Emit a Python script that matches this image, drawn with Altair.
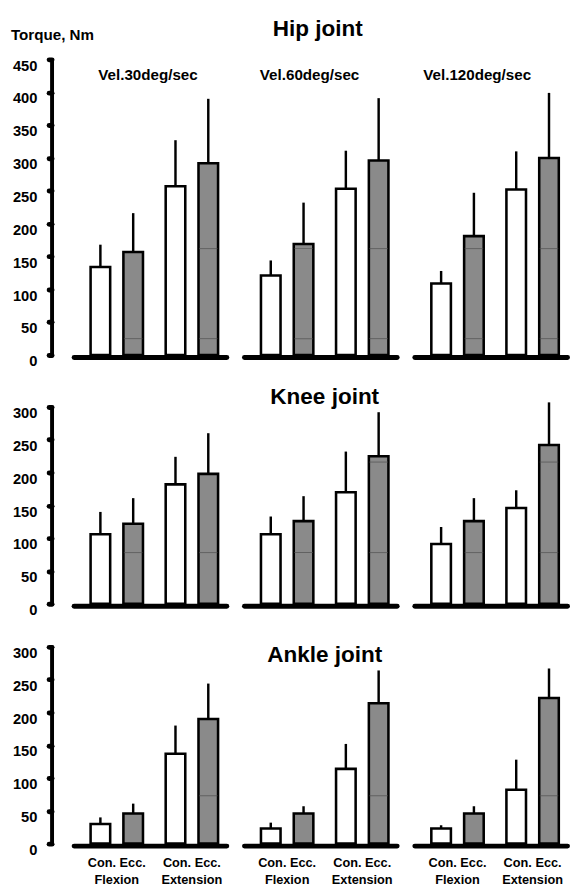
import altair as alt
import pandas as pd

FONT = "Liberation Sans"

velocities = ["Vel.30deg/sec", "Vel.60deg/sec", "Vel.120deg/sec"]
motions = ["Flexion", "Extension"]
types = ["Con.", "Ecc."]
bar_order = [("Flexion", "Con."), ("Flexion", "Ecc."), ("Extension", "Con."), ("Extension", "Ecc.")]

# mean torque (bar height) per velocity: Con-Flex, Ecc-Flex, Con-Ext, Ecc-Ext
hip_mean = [[134, 157, 257, 292], [121, 169, 253, 296], [109, 181, 252, 300]]
hip_upper = [[168, 216, 327, 390], [144, 232, 311, 391], [128, 247, 310, 399]]
knee_mean = [[106, 122, 182, 198], [106, 126, 170, 225], [91, 126, 146, 242]]
knee_upper = [[140, 161, 224, 260], [133, 164, 232, 292], [117, 161, 173, 307]]
ankle_mean = [[30, 46, 137, 190], [23, 46, 114, 214], [23, 46, 82, 222]]
ankle_upper = [[40, 61, 180, 244], [32, 57, 152, 264], [28, 57, 128, 267]]

# faint lines visible inside the shaded (eccentric) bars
pattern_lines = {"Hip joint": [25, 162], "Knee joint": [78, 216], "Ankle joint": [73]}

hip_ticks = [0, 50, 100, 150, 200, 250, 300, 350, 400, 450]
knee_ticks = [0, 50, 100, 150, 200, 250, 300]
ankle_ticks = [0, 50, 100, 150, 200, 250, 300]

W = 156
GREY = "#8a8a8a"


def make_row(joint, means, uppers, ticks, height, first=False, last=False,
             title_dx=0, title_y=0):
    pats = pattern_lines[joint]
    rows = []
    for vi, v in enumerate(velocities):
        for bi, (m, t) in enumerate(bar_order):
            ecc = t == "Ecc."
            rows.append(dict(
                Joint=joint, Velocity=v, Motion=m, Type=t,
                Mean=means[vi][bi], Upper=uppers[vi][bi],
                PatLo=pats[0] if ecc else None,
                PatHi=(pats[1] if len(pats) > 1 else None) if ecc else None,
            ))
    df = pd.DataFrame(rows)

    yscale = alt.Scale(domain=[0, ticks[-1]], nice=False, zero=True)
    yaxis_kwargs = dict(
        values=ticks, tickCount=len(ticks), grid=False, offset=21.5,
        labelOverlap=False, labelFlush=False, labelBound=False,
        domainWidth=4, domainColor="black", domainCap="round",
        tickSize=3, tickWidth=5, tickCap="round", tickColor="black",
        labelFont=FONT, labelFontWeight="bold", labelFontSize=15, labelColor="black",
        labelPadding=12, labelOffset=6, labelBaseline="middle",
    )
    if first:
        yaxis_kwargs.update(
            titleAngle=0, titleAlign="left", titleBaseline="alphabetic",
            titleX=-42, titleY=-20.5, titleFont=FONT, titleFontWeight="bold",
            titleFontSize=15.5, titleColor="black",
        )
    yaxis = alt.Axis(**yaxis_kwargs)
    ytitle = "Torque, Nm" if first else ""

    xaxis = alt.Axis(
        title=None, ticks=False, domainWidth=5, domainColor="black", domainCap="round",
        labels=last, labelAngle=0, labelFont=FONT, labelFontWeight="bold",
        labelFontSize=13, labelColor="black", labelPadding=11.5, labelLineHeight=17,
        labelOverlap=False,
        labelExpr="datum.value == 'Flexion' ? ['Con.  Ecc.', 'Flexion'] : ['Con.  Ecc.', 'Extension']",
    )

    x = alt.X("Motion:N", sort=motions, axis=xaxis,
              scale=alt.Scale(paddingInner=0.15, paddingOuter=0.092, align=0.816))
    xo = alt.XOffset("Type:N", sort=types,
                     scale=alt.Scale(paddingInner=0.403, paddingOuter=0.1745))

    base = alt.Chart().encode(x=x, xOffset=xo)
    err = base.mark_rule(color="black", strokeWidth=2.5).encode(
        y=alt.Y("Mean:Q", scale=yscale, axis=yaxis, title=ytitle), y2="Upper:Q"
    )
    bars = base.mark_bar(stroke="black", strokeWidth=2.6).encode(
        y=alt.Y("Mean:Q", scale=yscale, axis=yaxis, title=ytitle),
        fill=alt.condition("datum.Type == 'Ecc.'", alt.value(GREY), alt.value("white")),
    )
    pat_lo = base.mark_tick(color="#505050", thickness=1, size=19).encode(
        y=alt.Y("PatLo:Q", scale=yscale, axis=yaxis, title=ytitle)
    ).transform_filter("isValid(datum.PatLo) && datum.PatLo < datum.Mean - 2")
    pat_hi = base.mark_tick(color="#505050", thickness=1, size=19).encode(
        y=alt.Y("PatHi:Q", scale=yscale, axis=yaxis, title=ytitle)
    ).transform_filter("isValid(datum.PatHi) && datum.PatHi < datum.Mean - 2")

    title_text = alt.Chart().mark_text(
        font=FONT, fontSize=23, fontWeight="bold", color="black",
        align="center", baseline="alphabetic",
    ).encode(
        text="Joint:N", x=alt.value(W / 2 + title_dx), y=alt.value(title_y)
    ).transform_filter(
        "datum.Velocity == 'Vel.60deg/sec' && datum.Motion == 'Flexion' && datum.Type == 'Con.'"
    )

    layers = [err, bars, pat_lo, pat_hi, title_text]
    if first:
        for v, dx in zip(velocities, [-2, -11, -13.8]):
            layers.append(
                alt.Chart().mark_text(
                    font=FONT, fontSize=15.5, fontWeight="bold", color="black",
                    align="center", baseline="alphabetic",
                ).encode(
                    text="Velocity:N", x=alt.value(W / 2 + dx), y=alt.value(20.8)
                ).transform_filter(
                    f"datum.Velocity == '{v}' && datum.Motion == 'Flexion' && datum.Type == 'Con.'"
                )
            )

    return alt.layer(*layers, data=df).properties(width=W, height=height).facet(
        column=alt.Column("Velocity:N", sort=velocities, title=None,
                          header=alt.Header(labels=False)),
        spacing=16,
    )


hip = make_row("Hip joint", hip_mean, hip_upper, hip_ticks, 302, first=True,
               title_dx=-2.7, title_y=-23.5)
knee = make_row("Knee joint", knee_mean, knee_upper, knee_ticks, 201,
                title_dx=4.5, title_y=-3.3)
ankle = make_row("Ankle joint", ankle_mean, ankle_upper, ankle_ticks, 201, last=True,
                 title_dx=4.5, title_y=15.6)

lower = alt.vconcat(knee, ankle, spacing=27)
chart = alt.vconcat(hip, lower, spacing=17).properties(
    padding={"left": 2, "top": 1, "right": 2, "bottom": 0}
).configure(font=FONT, view=alt.ViewConfig(stroke="transparent"))

chart.save("out.html", embed_options={"renderer": "svg", "actions": False})
